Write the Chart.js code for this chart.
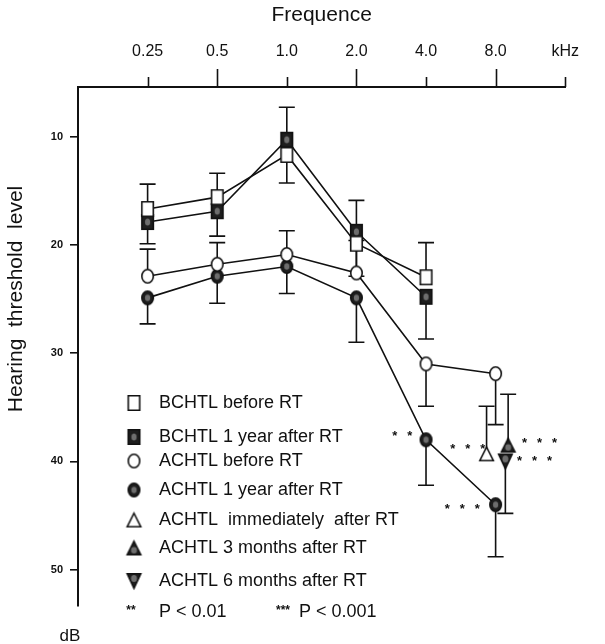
<!DOCTYPE html>
<html lang="en">
<head>
<meta charset="UTF-8">
<title>Hearing threshold level</title>
<script src="https://cdn.jsdelivr.net/npm/chart.js"></script>
<style>
    body { margin: 0; background: #fff; }
    .wrap { width: 605px; height: 644px; position: relative; }
</style>
</head>
<body>
<div class="wrap"><canvas id="audiogram"></canvas></div>
<script>
// frequencies on the top axis (index 0..5), the unit sits at index 6
var categories = ['0.25', '0.5', '1.0', '2.0', '4.0', '8.0'];
var unitLabel = 'kHz';
var xTicks = [0, 1, 2, 3, 4, 5, 6];
var yTicks = [10, 20, 30, 40, 50];

// dB values, and where each one-sided error bar ends
var bcBefore    = [16.7, 15.6, 11.7, 19.9, 23.0];
var bcBeforeErr = [14.4, 13.4, 14.3, 22.9, 19.8];
var bcAfter     = [17.9, 16.9, 10.3, 18.8, 24.8];
var bcAfterErr  = [19.9, 19.2, 7.3, 15.9, 28.7];
var acBefore    = [22.9, 21.8, 20.9, 22.6, 31.0, 31.9];
var acBeforeErr = [20.4, 19.8, 18.7, 19.6, 34.9, 36.6];
var acAfter     = [24.9, 22.9, 22.0, 24.9, 38.0, 44.0];
var acAfterErr  = [27.3, 25.4, 24.5, 29.0, 42.2, 48.8];

// 8 kHz follow-ups, nudged apart around 8.0 like in the figure
var lateLabels = ['ACHTL  immediately  after RT', 'ACHTL 3 months after RT', 'ACHTL 6 months after RT'];
var lateX   = [4.87, 5.18, 5.14];
var lateVal = [39.3, 38.5, 40.0];
var lateErr = [34.9, 33.8, 44.8];

// significance marks (position of the group centre, number of stars)
var starX = [3.66, 4.60, 5.63, 5.56, 4.52];
var starY = [37.4, 38.6, 38.1, 39.7, 44.2];
var starN = [2, 3, 3, 3, 3];

var ink = '#111';
var fontFam = '"Liberation Sans", Arial, Helvetica, sans-serif';
Chart.defaults.font.family = fontFam;
Chart.defaults.color = ink;

// little canvases used as point styles
function marker(shape, filled, w, h) {
    var c = document.createElement('canvas');
    c.width = w + 4;
    c.height = h + 4;
    var g = c.getContext('2d');
    g.translate(2, 2);
    function path(s) {
        g.beginPath();
        if (shape === 'rect') g.rect(0.75, 0.75, w - 1.5, h - 1.5);
        else if (shape === 'ellipse') g.ellipse(w / 2, h / 2, w / 2 - 0.75, h / 2 - 0.75, 0, 0, Math.PI * 2);
        else if (shape === 'up') { g.moveTo(w / 2, 0.75); g.lineTo(w - 0.75, h - 0.75); g.lineTo(0.75, h - 0.75); g.closePath(); }
        else { g.moveTo(0.75, 0.75); g.lineTo(w - 0.75, 0.75); g.lineTo(w / 2, h - 0.75); g.closePath(); }
    }
    path();
    g.fillStyle = filled ? '#1e1e1e' : '#fff';
    g.fill();
    g.lineWidth = 1.6;
    g.strokeStyle = ink;
    g.stroke();
    if (filled) {
        // grey speckle in the middle, like the printed symbols
        var cy = shape === 'up' ? h * 0.65 : (shape === 'down' ? h * 0.35 : h / 2);
        g.fillStyle = '#6e6e6e';
        g.beginPath();
        g.ellipse(w / 2, cy, w * 0.2, h * 0.22, 0, 0, Math.PI * 2);
        g.fill();
    }
    return c;
}

function pts(vals, xs) {
    return vals.map(function (v, i) { return { x: xs ? xs[i] : i, y: v }; });
}

var lineStyle = { showLine: true, borderColor: ink, borderWidth: 1.6, tension: 0, pointRadius: 8 };

var datasets = [
    Object.assign({ label: 'BCHTL before RT', data: pts(bcBefore), errEnd: bcBeforeErr, pointStyle: marker('rect', false, 13, 16) }, lineStyle),
    Object.assign({ label: 'BCHTL 1 year after RT', data: pts(bcAfter), errEnd: bcAfterErr, pointStyle: marker('rect', true, 13, 16) }, lineStyle),
    Object.assign({ label: 'ACHTL before RT', data: pts(acBefore), errEnd: acBeforeErr, pointStyle: marker('ellipse', false, 13, 15) }, lineStyle),
    Object.assign({ label: 'ACHTL 1 year after RT', data: pts(acAfter), errEnd: acAfterErr, pointStyle: marker('ellipse', true, 13, 15) }, lineStyle)
];
var lateShapes = [marker('up', false, 15, 15), marker('up', true, 15, 15), marker('down', true, 15, 16)];
lateLabels.forEach(function (lbl, i) {
    datasets.push({
        label: lbl,
        data: [{ x: lateX[i], y: lateVal[i] }],
        errEnd: [lateErr[i]],
        pointStyle: lateShapes[i],
        pointRadius: 8,
        showLine: false
    });
});

var errorBars = {
    id: 'errorBars',
    beforeDatasetsDraw: function (chart) {
        var ctx = chart.ctx, ys = chart.scales.y;
        ctx.save();
        ctx.strokeStyle = ink;
        ctx.lineWidth = 1.6;
        chart.data.datasets.forEach(function (ds, di) {
            if (!ds.errEnd) return;
            chart.getDatasetMeta(di).data.forEach(function (p, i) {
                var end = ds.errEnd[i];
                if (end == null) return;
                var ye = ys.getPixelForValue(end);
                ctx.beginPath();
                ctx.moveTo(p.x, p.y);
                ctx.lineTo(p.x, ye);
                ctx.moveTo(p.x - 8, ye);
                ctx.lineTo(p.x + 8, ye);
                ctx.stroke();
            });
        });
        ctx.restore();
    }
};

var extras = {
    id: 'extras',
    afterDraw: function (chart) {
        var ctx = chart.ctx, xs = chart.scales.x, ys = chart.scales.y, area = chart.chartArea;
        ctx.save();
        ctx.strokeStyle = ink;
        ctx.fillStyle = ink;

        // top axis ticks, long and short in turn
        ctx.lineWidth = 1.6;
        xTicks.forEach(function (v) {
            var px = Math.round(xs.getPixelForValue(v)) + 0.5;
            var len = v % 2 === 1 ? 18 : 10;
            ctx.beginPath();
            ctx.moveTo(px, area.top);
            ctx.lineTo(px, area.top - len);
            ctx.stroke();
        });

        // y title
        ctx.save();
        ctx.translate(16, 299);
        ctx.rotate(-Math.PI / 2);
        ctx.font = '21px ' + fontFam;
        ctx.textAlign = 'center';
        ctx.textBaseline = 'middle';
        ctx.fillText('Hearing  threshold  level', 0, 0);
        ctx.restore();

        ctx.font = '17px ' + fontFam;
        ctx.textAlign = 'center';
        ctx.textBaseline = 'middle';
        ctx.fillText('dB', 70, 636);

        // significance stars
        ctx.font = 'bold 13px ' + fontFam;
        starX.forEach(function (sx, i) {
            var cx = xs.getPixelForValue(sx), cy = ys.getPixelForValue(starY[i]) + 3;
            for (var k = 0; k < starN[i]; k++) {
                ctx.fillText('*', cx + (k - (starN[i] - 1) / 2) * 15, cy);
            }
        });

        // legend inside the plot
        var rows = [403, 437, 461, 490, 520, 548, 581];
        ctx.textAlign = 'left';
        ctx.font = '18px ' + fontFam;
        chart.data.datasets.forEach(function (ds, i) {
            var img = ds.pointStyle;
            ctx.drawImage(img, 134 - img.width / 2, rows[i] - img.height / 2);
            ctx.fillText(ds.label, 159, rows[i]);
        });
        ctx.font = 'bold 12px ' + fontFam;
        ctx.textAlign = 'center';
        ctx.fillText('**', 131, 611);
        ctx.fillText('***', 283, 611);
        ctx.textAlign = 'left';
        ctx.font = '18px ' + fontFam;
        ctx.fillText('P < 0.01', 159, 612);
        ctx.fillText('P < 0.001', 299, 612);
        ctx.restore();
    }
};

new Chart(document.getElementById('audiogram'), {
    type: 'scatter',
    data: { datasets: datasets },
    options: {
        responsive: true,
        maintainAspectRatio: false,
        animation: false,
        layout: { padding: { left: 0, top: 0, right: 21, bottom: 38 } },
        plugins: {
            legend: { display: false },
            tooltip: { enabled: false }
        },
        scales: {
            x: {
                type: 'linear',
                position: 'top',
                min: -1,
                max: 6,
                afterFit: function (s) { s.height = 87; },
                afterBuildTicks: function (s) { s.ticks = xTicks.map(function (v) { return { value: v }; }); },
                grid: { display: false, drawTicks: false },
                border: { display: true, color: ink, width: 2 },
                ticks: {
                    padding: 26,
                    font: { size: 16 },
                    callback: function (v) { return v === 6 ? unitLabel : (categories[v] || ''); }
                },
                title: { display: true, text: 'Frequence', font: { size: 21 }, padding: { top: 3, bottom: 0 } }
            },
            y: {
                type: 'linear',
                reverse: true,
                min: 5.43,
                max: 53.35,
                afterFit: function (s) { s.width = 78; },
                afterBuildTicks: function (s) { s.ticks = yTicks.map(function (v) { return { value: v }; }); },
                grid: { display: true, drawOnChartArea: false, drawTicks: true, tickLength: 8, color: ink, lineWidth: 1.6 },
                border: { display: true, color: ink, width: 2 },
                ticks: { padding: 7, font: { size: 11, weight: 'bold' } }
            }
        }
    },
    plugins: [errorBars, extras]
});
</script>
</body>
</html>
